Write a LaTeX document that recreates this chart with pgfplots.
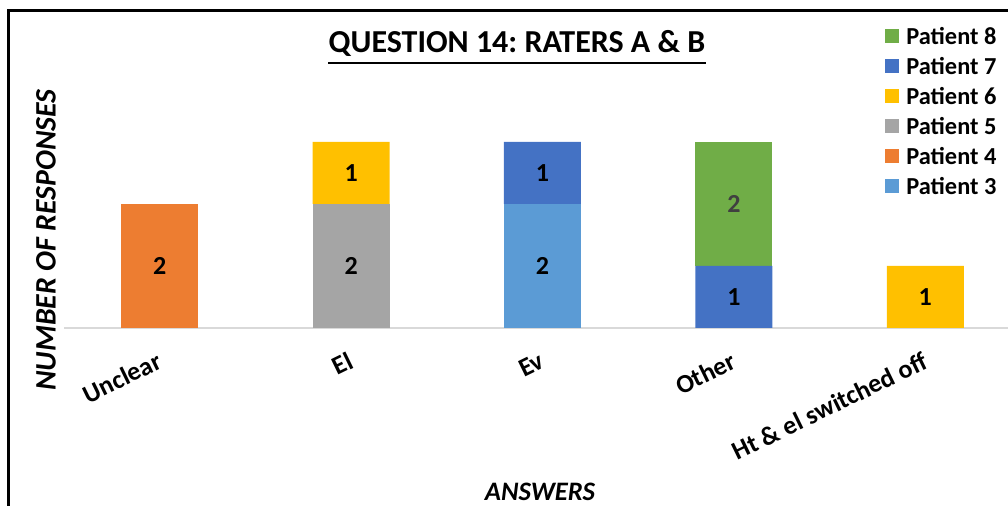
\documentclass[border=0pt]{standalone}
\usepackage{pgfplots}
\usepackage{pgfplotstable}
\pgfplotsset{compat=1.18}
\usepackage{fontspec}
\setmainfont{Carlito}
\frenchspacing
\definecolor{p3}{HTML}{5B9BD5}
\definecolor{p4}{HTML}{ED7D31}
\definecolor{p5}{HTML}{A5A5A5}
\definecolor{p6}{HTML}{FFC000}
\definecolor{p7}{HTML}{4472C4}
\definecolor{p8}{HTML}{70AD47}
\definecolor{axgray}{HTML}{D9D9D9}
\definecolor{lblgray}{HTML}{404040}
\pgfplotstableread{
x p3 p4 p5 p6 p7 p8
0 0 2 0 0 0 0
1 0 0 2 1 0 0
2 2 0 0 0 1 0
3 0 0 0 0 1 2
4 0 0 0 1 0 0
}\datatable
\begin{document}
\begin{tikzpicture}
\path[use as bounding box] (0,0) rectangle (756pt,379.5pt);
\draw[line width=2.25pt] (6.375pt,-20pt) |- (790pt,371.25pt);
\node (t) [anchor=base, inner sep=0pt, font=\fontsize{24}{28}\selectfont\bfseries] at (387.75pt,339.75pt) {QUESTION 14: RATERS A \& B};
\draw[line width=1.5pt] ([yshift=-7.5pt]t.base west) -- ([yshift=-7.5pt]t.base east);
\node[rotate=90, inner sep=0pt, font=\fontsize{22.3}{26}\selectfont\bfseries\itshape] at (34.5pt,199.5pt) {NUMBER OF RESPONSES};
\node[anchor=base, inner sep=0pt, font=\fontsize{20}{24}\selectfont\bfseries\itshape] at (405pt,4pt) {ANSWERS};
\begin{axis}[
  at={(48pt,133.5pt)}, anchor=south west, scale only axis,
  width=717.75pt, height=148.8pt,
  xmin=-0.5, xmax=4.5, ymin=0, ymax=3.2,
  ybar stacked, bar width=57.75pt,
  axis y line=none,
  axis x line*=bottom,
  x axis line style={draw=axgray, line width=1.5pt, -},
  xtick={0,1,2,3,4},
  xticklabels={Unclear, El, Ev, Other, Ht \& el switched off},
  major tick length=0pt,
  xticklabel shift=22pt,
  xticklabel style={font=\fontsize{19.5}{22}\selectfont\bfseries, xshift=3pt, rotate=26, anchor=east},
  /pgf/number format/assume math mode=true,
  point meta=explicit,
  nodes near coords={\pgfmathfloatifflags{\pgfplotspointmeta}{0}{}{\pgfmathprintnumber{\pgfplotspointmeta}}},
  every node near coord/.append style={font=\fontsize{19.5}{22}\selectfont\bfseries, anchor=center},
  reverse legend,
  legend image code/.code={\fill[#1] (0pt,-5.25pt) rectangle (10.5pt,5.25pt);},
  legend style={at={(0.858,1.5104)}, anchor=north west, draw=none, fill=none,
    font=\fontsize{18.3}{20}\selectfont\bfseries, inner sep=0pt,
    nodes={inner sep=0pt, text height=11.6pt, text depth=0pt},
    row sep=10.9pt, cells={anchor=west},
    /tikz/every odd column/.append style={column sep=5.25pt}},
]
\addplot[fill=p3, draw=none] table[x=x,y=p3,meta=p3]{\datatable};
\addplot[fill=p4, draw=none] table[x=x,y=p4,meta=p4]{\datatable};
\addplot[fill=p5, draw=none] table[x=x,y=p5,meta=p5]{\datatable};
\addplot[fill=p6, draw=none] table[x=x,y=p6,meta=p6]{\datatable};
\addplot[fill=p7, draw=none] table[x=x,y=p7,meta=p7]{\datatable};
\addplot[fill=p8, draw=none, every node near coord/.append style={text=lblgray}] table[x=x,y=p8,meta=p8]{\datatable};
\legend{Patient 3, Patient 4, Patient 5, Patient 6, Patient 7, Patient 8}
\end{axis}
\end{tikzpicture}
\end{document}
